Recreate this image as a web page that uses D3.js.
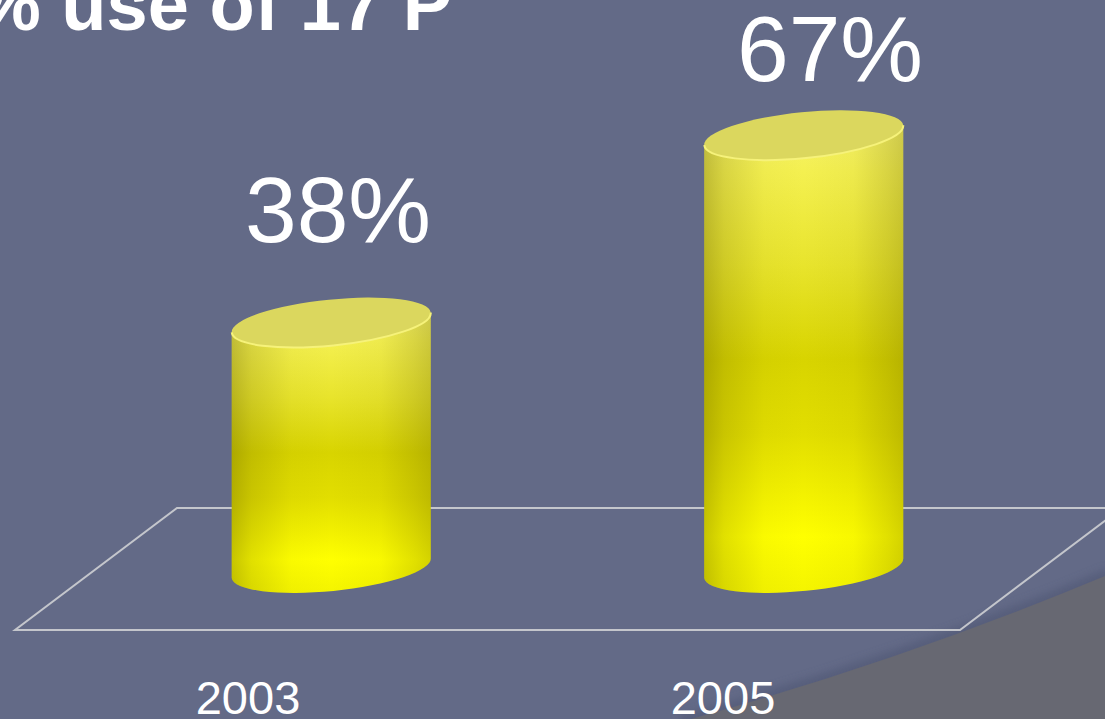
<!DOCTYPE html>
<html>
<head>
<meta charset="utf-8">
<script src="https://cdn.jsdelivr.net/npm/d3@7"></script>
<style>
  html, body { margin: 0; padding: 0; background: #636a87; }
  svg { display: block; }
  text { font-family: "Liberation Sans", Arial, sans-serif; fill: #fff; }
</style>
</head>
<body>
<script>
const title = '% use of 17 P';
const years = ['2003', '2005'];
const values = [38, 67];
const valueLabels = ['38%', '67%'];

const width = 1105, height = 719;

const svg = d3.select('body').append('svg')
  .attr('width', width)
  .attr('height', height);

const defs = svg.append('defs');

// body colour, top to bottom
const vgrad = defs.append('linearGradient')
  .attr('id', 'bodyV').attr('x1', 0).attr('y1', 0).attr('x2', 0).attr('y2', 1);
[[0, '#f6f26a'], [0.1, '#f4f050'], [0.3, '#e8e42c'], [0.5, '#d8d400'],
 [0.66, '#e2de00'], [0.88, '#ffff00'], [1, '#f4f400']]
  .forEach(s => vgrad.append('stop').attr('offset', s[0]).attr('stop-color', s[1]));

// side shading, left to right
const hgrad = defs.append('linearGradient')
  .attr('id', 'bodyH').attr('x1', 0).attr('y1', 0).attr('x2', 1).attr('y2', 0);
[[0, 0.34], [0.1, 0.18], [0.3, 0.03], [0.5, 0], [0.75, 0.04], [0.92, 0.18], [1, 0.26]]
  .forEach(s => hgrad.append('stop').attr('offset', s[0])
    .attr('stop-color', '#5a5400').attr('stop-opacity', s[1]));

const blur = defs.append('filter').attr('id', 'soft')
  .attr('x', '-20%').attr('y', '-20%').attr('width', '140%').attr('height', '140%');
blur.append('feGaussianBlur').attr('stdDeviation', 5);

// background
svg.append('rect').attr('width', width).attr('height', height).attr('fill', '#636a87');

// slide decoration bottom right
const curve = 'M 680 722 Q 900 662 1110 574';
svg.append('path')
  .attr('d', curve)
  .attr('fill', 'none')
  .attr('stroke', '#4e5472')
  .attr('stroke-width', 10)
  .attr('opacity', 0.7)
  .attr('filter', 'url(#soft)');
svg.append('path')
  .attr('d', curve + ' L 1110 722 Z')
  .attr('fill', '#676872');

// title, cut off at top like the slide
svg.append('text')
  .attr('x', -25)
  .attr('y', 30)
  .attr('font-size', 74)
  .attr('font-weight', 'bold')
  .text(title);

// scales
const x = d3.scalePoint().domain(years).range([95, 1040]).padding(0.5);
const y = d3.scaleLinear().domain([0, 100]).range([568, -78]);
const labelX = d3.scalePoint().domain(years).range([338, 830]);
const labelY = d3.scaleLinear().domain([0, 100]).range([453, -102]);
const yearX = d3.scalePoint().domain(years).range([248, 723]);

// floor of the 3D plot
const floorFront = 630, floorBack = 508, floorDepth = 162;
const floorLeft = 15, floorRight = 960;
svg.append('path')
  .attr('d', `M ${floorLeft} ${floorFront} L ${floorRight} ${floorFront}
    L ${floorRight + floorDepth} ${floorBack} L ${floorLeft + floorDepth} ${floorBack} Z`)
  .attr('fill', 'none')
  .attr('stroke', '#c4c6cc')
  .attr('stroke-width', 2);

// cylinders
const rx = 100, ry = 23, tilt = -5.7;
const t = tilt * Math.PI / 180;
const ex = rx * Math.cos(t), ey = rx * Math.sin(t);

const data = years.map((yr, i) => ({ year: yr, value: values[i], label: valueLabels[i] }));

const bars = svg.append('g').selectAll('g.bar')
  .data(data)
  .enter().append('g')
  .attr('class', 'bar');

const bodyPath = d => {
  const cx = x(d.year), yt = y(d.value), yb = y(0);
  return `M ${cx - ex} ${yt - ey} L ${cx - ex} ${yb - ey}
    A ${rx} ${ry} ${tilt} 0 0 ${cx + ex} ${yb + ey}
    L ${cx + ex} ${yt + ey}
    A ${rx} ${ry} ${tilt} 0 1 ${cx - ex} ${yt - ey} Z`;
};

bars.append('path').attr('d', bodyPath).attr('fill', 'url(#bodyV)');
bars.append('path').attr('d', bodyPath).attr('fill', 'url(#bodyH)');

bars.append('ellipse')
  .attr('cx', 0).attr('cy', 0)
  .attr('rx', rx).attr('ry', ry)
  .attr('transform', d => `translate(${x(d.year)},${y(d.value)}) rotate(${tilt})`)
  .attr('fill', '#dbd75e');

// light rim on the front edge of the top
bars.append('path')
  .attr('d', d => {
    const cx = x(d.year), yt = y(d.value);
    return `M ${cx + ex} ${yt + ey} A ${rx} ${ry} ${tilt} 0 1 ${cx - ex} ${yt - ey}`;
  })
  .attr('fill', 'none')
  .attr('stroke', '#f6f27a')
  .attr('stroke-width', 2);

// value labels
svg.append('g').selectAll('text')
  .data(data)
  .enter().append('text')
  .attr('x', d => labelX(d.year))
  .attr('y', d => labelY(d.value))
  .attr('text-anchor', 'middle')
  .attr('font-size', 93)
  .text(d => d.label);

// category labels
svg.append('g').selectAll('text')
  .data(years)
  .enter().append('text')
  .attr('x', d => yearX(d))
  .attr('y', 714)
  .attr('text-anchor', 'middle')
  .attr('font-size', 47)
  .text(d => d);
</script>
</body>
</html>
